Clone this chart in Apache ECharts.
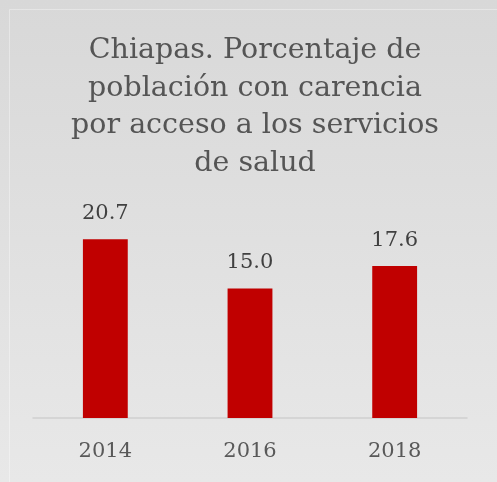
<!DOCTYPE html>
<html><head><meta charset="utf-8">
<script src="https://cdn.jsdelivr.net/npm/echarts@6/dist/echarts.min.js"></script>
<style>html,body{margin:0;padding:0;}#c{width:497px;height:482px;}</style>
</head><body><div id="c"></div>
<script>
const titleText = "Chiapas. Porcentaje de\npoblación con carencia\npor acceso a los servicios\nde salud";
const categories = ["2014", "2016", "2018"];
const values = [20.7, 15.0, 17.6];

const chart = echarts.init(document.getElementById('c'));
const serif = "'DejaVu Serif', serif";
chart.setOption({
  backgroundColor: {
    type: 'linear', x: 0, y: 0, x2: 0, y2: 1,
    colorStops: [{offset: 0, color: '#d8d8d8'}, {offset: 1, color: '#e8e8e8'}]
  },
  graphic: [{
    type: 'rect', shape: {x: 9.5, y: 9.5, width: 500, height: 500},
    style: {fill: 'none', stroke: 'rgba(255,255,255,0.35)', lineWidth: 1}, silent: true
  }],
  title: {
    text: titleText, left: 250, textAlign: 'center', top: 27,
    textStyle: {fontFamily: serif, fontSize: 28.5, fontWeight: 'normal', color: '#555555', lineHeight: 37.5}
  },
  grid: {left: 33, right: 30, top: 202, bottom: 64},
  xAxis: {
    type: 'category', data: categories,
    axisLine: {lineStyle: {color: '#d0d0d0', width: 1.5}},
    axisTick: {show: false},
    axisLabel: {fontFamily: serif, fontSize: 21, color: '#595959', margin: 23}
  },
  yAxis: {type: 'value', min: 0, max: 25, show: false, splitLine: {show: false}},
  series: [{
    type: 'bar', data: values, barWidth: '31%',
    itemStyle: {color: '#c00000'},
    label: {show: true, position: 'top', distance: 15, fontFamily: serif, fontSize: 21, color: '#404040',
      formatter: p => p.value.toFixed(1)}
  }],
  animation: false
});
</script></body></html>
